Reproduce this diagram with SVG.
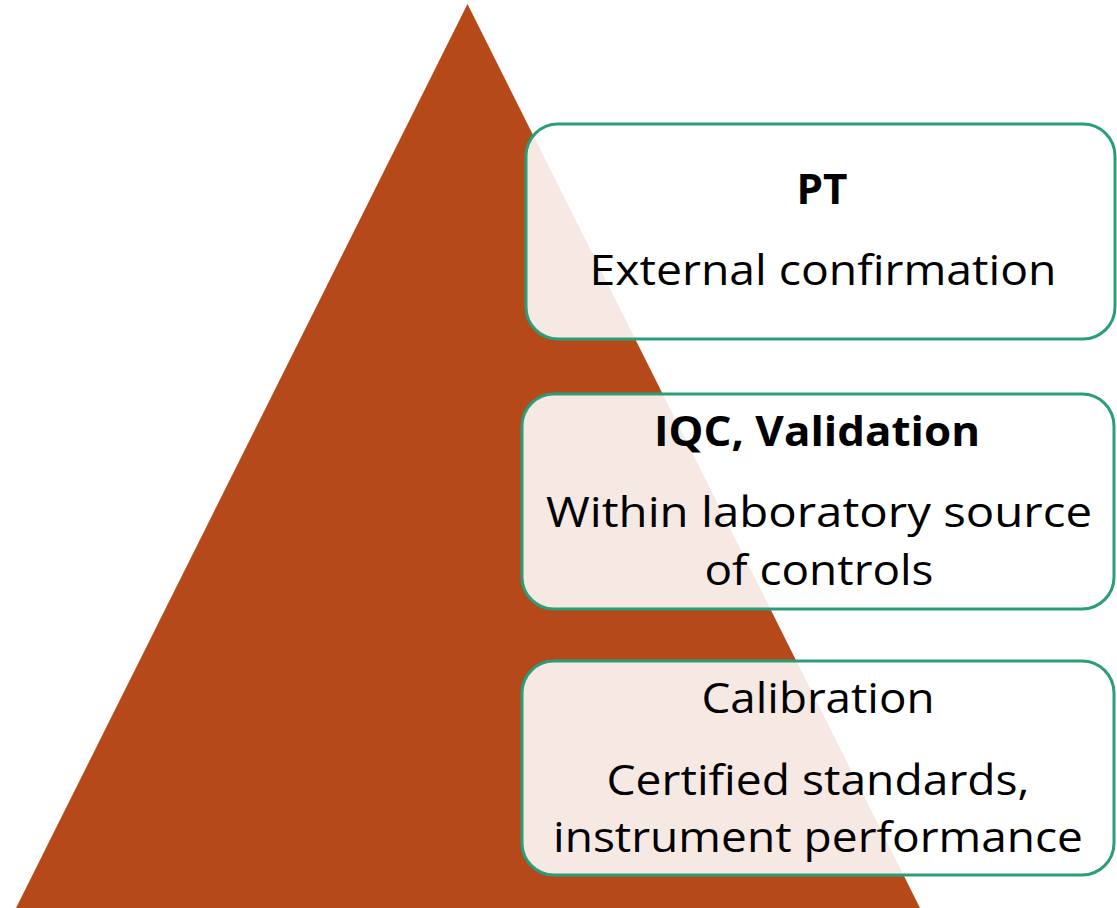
<svg xmlns="http://www.w3.org/2000/svg" width="1117" height="908" viewBox="0 0 1117 908">
<style>
.box{fill:#ffffff;fill-opacity:0.88;stroke:#2A9D7A;stroke-width:3}
.t{font-family:"Open Sans","Liberation Sans",sans-serif;font-size:42px;fill:#000;text-anchor:middle}
.b{font-weight:bold}
</style>
<rect width="1117" height="908" fill="#ffffff"/>
<g id="pyramid"><polygon points="467.5,4 16,908 920,908" fill="#B5491A"/></g>
<g id="node-pt">
<rect class="box" x="526" y="124" width="589" height="215" rx="32"/>
<text class="t b" x="822" y="204" textLength="51" lengthAdjust="spacingAndGlyphs">PT</text>
<text class="t" x="823" y="285" textLength="467" lengthAdjust="spacingAndGlyphs">External confirmation</text>
</g>
<g id="node-iqc">
<rect class="box" x="522" y="394" width="592" height="215" rx="32"/>
<text class="t b" x="817" y="446" textLength="326" lengthAdjust="spacingAndGlyphs">IQC, Validation</text>
<text class="t" x="819" y="527" textLength="546" lengthAdjust="spacingAndGlyphs">Within laboratory source</text>
<text class="t" x="819" y="585" textLength="229" lengthAdjust="spacingAndGlyphs">of controls</text>
</g>
<g id="node-cal">
<rect class="box" x="522" y="661" width="592" height="214" rx="32"/>
<text class="t" x="818" y="713" textLength="233" lengthAdjust="spacingAndGlyphs">Calibration</text>
<text class="t" x="818" y="795" textLength="423" lengthAdjust="spacingAndGlyphs">Certified standards,</text>
<text class="t" x="818" y="852" textLength="530" lengthAdjust="spacingAndGlyphs">instrument performance</text>
</g>
<g id="connectors"></g>
</svg>
